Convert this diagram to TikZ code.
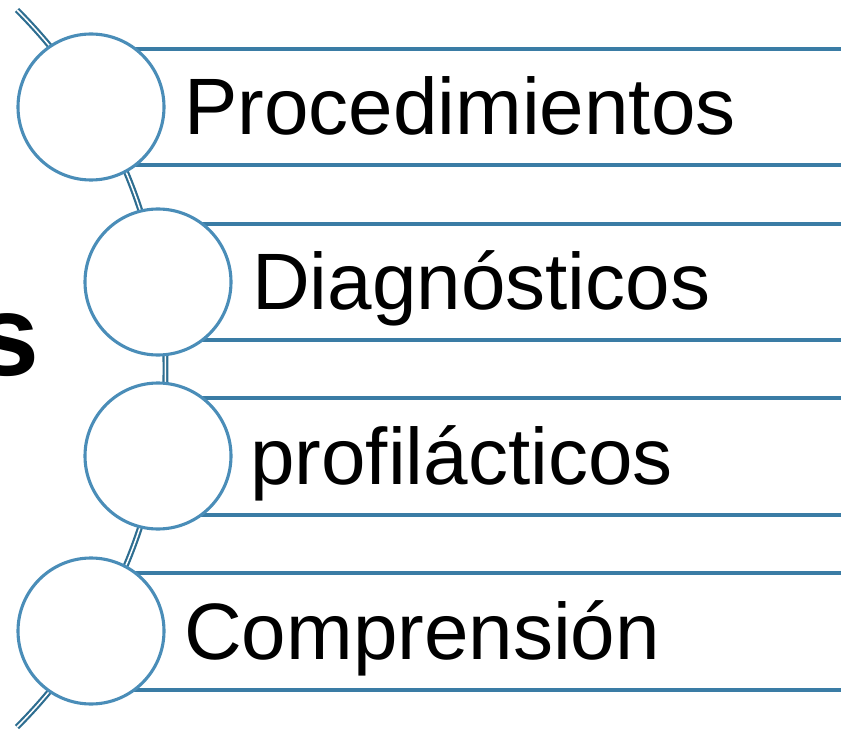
\documentclass[tikz,border=0pt]{standalone}
\usepackage{fontspec}
\setmainfont{Liberation Sans}
\definecolor{circblue}{HTML}{4A8DB8}
\definecolor{bandblue}{HTML}{3A7CA5}
\definecolor{arcblue}{HTML}{2E6E91}
\tikzset{
  ring/.style={circle, draw=circblue, line width=3.1pt, fill=white, minimum size=146pt, inner sep=0pt},
  bandline/.style={draw=bandblue, line width=3.2pt},
  label/.style={anchor=base west, inner sep=0pt, font=\fontsize{80}{96}\selectfont},
  spine/.style={draw=arcblue, line width=2.2pt, double=white, double distance=1.5pt}
}
\begin{document}
\begin{tikzpicture}[x=1pt,y=-1pt]
\useasboundingbox (0,0) rectangle (841,730);
\clip (0,0) rectangle (841,730);
% spine arc
\coordinate (arcstart) at (17,10);
\draw[spine] (arcstart) arc[start angle=-45, end angle=45, radius=507];
% band lines
\coordinate (b1tl) at (91,49);  \coordinate (b1tr) at (845,49);
\coordinate (b1bl) at (91,165); \coordinate (b1br) at (845,165);
\coordinate (b2tl) at (158,224);  \coordinate (b2tr) at (845,224);
\coordinate (b2bl) at (158,340); \coordinate (b2br) at (845,340);
\coordinate (b3tl) at (158,398);  \coordinate (b3tr) at (845,398);
\coordinate (b3bl) at (158,515); \coordinate (b3br) at (845,515);
\coordinate (b4tl) at (91,573);  \coordinate (b4tr) at (845,573);
\coordinate (b4bl) at (91,690); \coordinate (b4br) at (845,690);
\draw[bandline] (b1tl) -- (b1tr); \draw[bandline] (b1bl) -- (b1br);
\draw[bandline] (b2tl) -- (b2tr); \draw[bandline] (b2bl) -- (b2br);
\draw[bandline] (b3tl) -- (b3tr); \draw[bandline] (b3bl) -- (b3br);
\draw[bandline] (b4tl) -- (b4tr); \draw[bandline] (b4bl) -- (b4br);
% circles
\node[ring] (c1) at (91,107) {};
\node[ring] (c2) at (158,282) {};
\node[ring] (c3) at (158,456) {};
\node[ring] (c4) at (91,631) {};
% texts
\node[label] (t1) at (184,135) {Procedimientos};
\node[label] (t2) at (252,309) {Diagnósticos};
\node[label] (t3) at (250,484) {profilácticos};
\node[label] (t4) at (184,659) {Comprensión};
\node[anchor=base east, inner sep=0pt, font=\fontsize{115}{130}\selectfont\bfseries] (s) at (40,375) {s};
\end{tikzpicture}
\end{document}
